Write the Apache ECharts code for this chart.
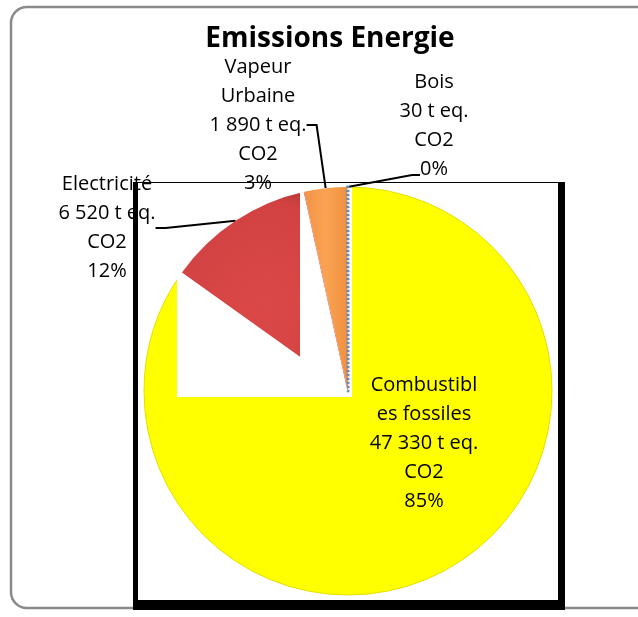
<!DOCTYPE html>
<html>
<head>
<meta charset="utf-8">
<script src="https://cdn.jsdelivr.net/npm/echarts@6/dist/echarts.min.js"></script>
<style>
  html, body { margin: 0; padding: 0; background: #ffffff; }
  #chart { width: 638px; height: 617px; }
</style>
</head>
<body>
<div id="chart"></div>
<script>
// Energy emissions, tonnes CO2 equivalent
const categories = ['Combustibles fossiles', 'Electricité', 'Vapeur Urbaine', 'Bois'];
const labelNames = ['Combustibl\nes fossiles', 'Electricité', 'Vapeur\nUrbaine', 'Bois'];
const emissions = [47330, 6520, 1890, 30];
const titleText = 'Emissions Energie';

// Layout
const CX = 348, CY = 391, R = 204;
const labelAnchors = [[424, 443], [107, 228], [258, 125], [434, 126]];
const FONT = '"Open Sans", "Noto Sans", sans-serif';

const fillStyles = [
  '#ffff00',
  { type: 'radial', x: 0.5, y: 0.55, r: 0.75,
    colorStops: [{ offset: 0, color: '#db4848' }, { offset: 0.8, color: '#d24242' }, { offset: 1, color: '#aa3030' }] },
  { type: 'linear', x: 0, y: 0, x2: 1, y2: 0,
    colorStops: [{ offset: 0, color: '#f39247' }, { offset: 0.5, color: '#f9a352' }, { offset: 1, color: '#f09040' }] },
  '#ffffff'
];
const CLEAR = 'rgba(0,0,0,0)';

function groupThousands(n) {
  return String(n).replace(/\B(?=(\d{3})+(?!\d))/g, ' ');
}
function labelText(p) {
  return labelNames[p.dataIndex] + '\n' + groupThousands(p.value) + ' t eq.\nCO2\n' + Math.round(p.percent) + '%';
}

const total = emissions.reduce((a, b) => a + b, 0);
// end angle (radians, clockwise from 12 o'clock) of the Electricité slice
const elecEnd = (emissions[0] + emissions[1]) / total * Math.PI * 2;

function buildData(front) {
  return categories.map((name, i) => {
    const visible = front ? i > 0 : i === 0;
    const item = {
      name: name,
      value: emissions[i],
      itemStyle: { color: visible ? fillStyles[i] : CLEAR, borderWidth: 0 },
      label: { show: visible },
      labelLine: { show: visible && i > 0 }
    };
    if (visible && i === 0) {
      item.itemStyle.borderColor = '#e3e000';
      item.itemStyle.borderWidth = 1;
    }
    if (visible && i === 3) {
      item.itemStyle.borderColor = '#6f8cb0';
      item.itemStyle.borderWidth = 3;
      item.itemStyle.borderType = [2, 2];
    }
    return item;
  });
}

function placeLabel(params) {
  const a = labelAnchors[params.dataIndex];
  const out = { x: a[0], y: a[1], align: 'center', verticalAlign: 'middle' };
  // the Bois leader runs to the left of its last line
  if (params.dataIndex === 3 && params.labelLinePoints) {
    const start = params.labelLinePoints[0];
    out.labelLinePoints = [
      [start[0], start[1]],
      [a[0] - 22, a[1] + 49],
      [a[0] - 14, a[1] + 49]
    ];
  }
  return out;
}

const labelStyle = {
  formatter: labelText,
  fontFamily: FONT,
  fontSize: 20,
  lineHeight: 29,
  color: '#000000',
  align: 'center'
};

const chart = echarts.init(document.getElementById('chart'), null, { renderer: 'canvas' });

chart.setOption({
  animation: false,
  backgroundColor: '#ffffff',
  title: {
    text: titleText,
    left: 325,
    top: 20,
    textAlign: 'center',
    textStyle: { fontFamily: FONT, fontWeight: 'bold', fontSize: 28, color: '#000000' }
  },
  graphic: {
    elements: [
      // outer rounded chart border
      { type: 'rect', z: 0, silent: true,
        shape: { x: 11, y: 7, width: 660, height: 601, r: 16 },
        style: { fill: 'none', stroke: '#8a8a8a', lineWidth: 2.5 } },
      // plot area frame with heavy shadow
      { type: 'rect', z: 0, silent: true,
        shape: { x: 133, y: 182, width: 432, height: 428 },
        style: { fill: '#000000' } },
      { type: 'rect', z: 0, silent: true,
        shape: { x: 138, y: 183, width: 420, height: 417 },
        style: { fill: '#ffffff' } },
      // white patch behind the small slices
      { type: 'rect', z: 3, silent: true,
        shape: { x: CX - 171, y: CY - R - 8, width: 175, height: R + 14 },
        style: { fill: '#ffffff' } },
      // vertical cut trimming the Electricité slice
      { type: 'polygon', z: 5, silent: true,
        shape: { points: [
          [CX - 48, CY - R - 8],
          [CX + (R + 8) * Math.sin(elecEnd) - 0.5, CY - (R + 8) * Math.cos(elecEnd)],
          [CX - 0.5, CY],
          [CX - 48, CY]
        ] },
        style: { fill: '#ffffff' } },
      // left shadow bar and top edge of the frame sit above the labels
      { type: 'rect', z: 10, silent: true,
        shape: { x: 133, y: 182, width: 5, height: 428 },
        style: { fill: '#000000' } },
      { type: 'rect', z: 10, silent: true,
        shape: { x: 133, y: 182, width: 425, height: 1 },
        style: { fill: '#000000' } }
    ]
  },
  series: [
    {
      type: 'pie',
      z: 2,
      center: [CX, CY],
      radius: R,
      startAngle: 90,
      clockwise: true,
      avoidLabelOverlap: false,
      silent: true,
      label: Object.assign({ position: 'inside' }, labelStyle),
      labelLine: { show: false },
      labelLayout: placeLabel,
      data: buildData(false)
    },
    {
      type: 'pie',
      z: 4,
      center: [CX, CY],
      radius: R,
      startAngle: 90,
      clockwise: true,
      avoidLabelOverlap: false,
      silent: true,
      label: Object.assign({ position: 'outside' }, labelStyle),
      labelLine: { show: true, length: 8, length2: 10, smooth: false,
        lineStyle: { color: '#000000', width: 2 } },
      labelLayout: placeLabel,
      data: buildData(true)
    }
  ]
});
</script>
</body>
</html>
